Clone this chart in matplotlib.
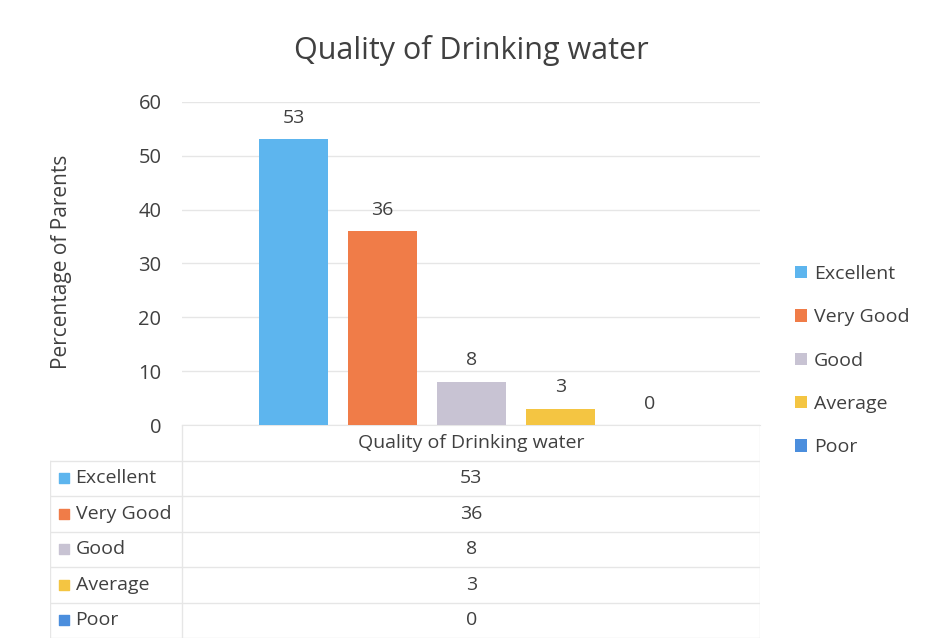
import matplotlib.pyplot as plt

plt.rcParams['font.family'] = ['Open Sans', 'DejaVu Sans']

# data
categories = ["Excellent", "Very Good", "Good", "Average", "Poor"]
values = [53, 36, 8, 3, 0]
colors = ["#5DB5EE", "#F07C48", "#C8C3D3", "#F4C542", "#4B8EDD"]
yticks = [0, 10, 20, 30, 40, 50, 60]
title = "Quality of Drinking water"
ylabel = "Percentage of Parents"

text_col = "#404040"
grid_col = "#E6E6E6"

fig = plt.figure(figsize=(9.25, 6.44), dpi=100)
fig.patch.set_facecolor("white")

# main bar chart
ax = fig.add_axes([0.197, 0.340, 0.625, 0.502])
bars = []
for i, (cat, val, col) in enumerate(zip(categories, values, colors)):
    b = ax.bar(i, val, width=0.78, color=col, label=cat, zorder=3)
    bars.append(b)
    ax.annotate(str(val), (i, val), xytext=(0, 9), textcoords="offset points",
                ha="center", va="bottom", fontsize=14, color=text_col)

ax.set_xlim(-1.25, 5.25)
ax.set_ylim(0, 60)
ax.set_yticks(yticks)
ax.set_xticks([])
ax.tick_params(axis="y", length=0, labelsize=14.5, labelcolor=text_col, pad=15)
ax.grid(axis="y", color=grid_col, linewidth=1, zorder=0)
for s in ["top", "right", "left"]:
    ax.spines[s].set_visible(False)
ax.spines["bottom"].set_color(grid_col)
fig.text(0.066, 0.593, ylabel, rotation=90, ha="center", va="center",
         fontsize=15, color=text_col)

fig.text(0.51, 0.922, title, ha="center", va="center", fontsize=22, color=text_col)

# legend on the right
fig.legend(handles=bars, labels=categories, loc="center left",
           bbox_to_anchor=(0.841, 0.44), frameon=False, fontsize=14,
           handlelength=0.6, handleheight=0.6, handletextpad=0.35,
           labelspacing=1.3, labelcolor=text_col)

# data table below
tax = fig.add_axes([0.054, 0.009, 0.768, 0.331])
tax.set_xlim(0, 1)
tax.set_ylim(6, 0)
tax.axis("off")
split = 0.186
nrows = len(categories) + 1
for r in range(1, nrows + 1):
    tax.plot([0, 1], [r, r], color=grid_col, linewidth=1)
tax.plot([split, split], [0, nrows], color=grid_col, linewidth=1)
tax.plot([0, 0], [1, nrows], color=grid_col, linewidth=1)
tax.plot([1, 1], [0, nrows], color=grid_col, linewidth=1)
tax.text((split + 1) / 2, 0.5, title, ha="center", va="center",
         fontsize=14, color=text_col)
for r, (cat, val, col) in enumerate(zip(categories, values, colors), start=1):
    tax.scatter([0.02], [r + 0.5], marker="s", s=60, color=col)
    tax.text(0.036, r + 0.5, cat, ha="left", va="center", fontsize=14, color=text_col)
    tax.text((split + 1) / 2, r + 0.5, str(val), ha="center", va="center",
             fontsize=14, color=text_col)

fig.savefig("out.png", dpi=100)
